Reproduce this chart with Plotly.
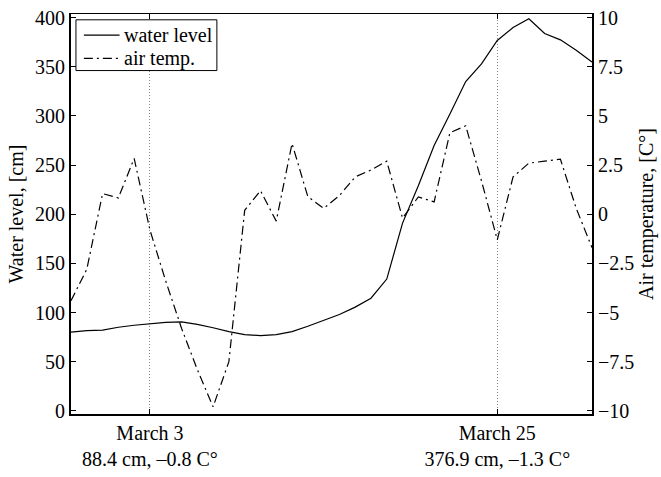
import plotly.graph_objects as go

# Day of March (Feb 26 = -2 ... March 31 = 31)
days = [-2, -1, 0, 1, 2, 3, 4, 5, 6, 7, 8, 9, 10, 11, 12, 13, 14, 15, 16,
        17, 18, 19, 20, 21, 22, 23, 24, 25, 26, 27, 28, 29, 30, 31]

water_level = [80, 81.5, 82, 85, 87, 88.4, 90, 90.5, 88, 84.5, 80.5, 77.5, 76.5,
               77.5, 80.5, 86, 92, 98, 105.5, 114.5, 134, 191, 229, 270, 302,
               335, 353, 376.9, 390, 399, 384, 377.5, 367, 355]

air_temp = [-4.4, -2.8, 1.05, 0.83, 2.84, -0.8, -3.4, -5.8, -7.9, -9.8, -7.5, 0.2,
            1.2, -0.35, 3.6, 0.9, 0.3, 0.95, 1.9, 2.25, 2.7, -0.2, 0.88, 0.63,
            4.15, 4.5, 1.7, -1.3, 1.9, 2.6, 2.7, 2.8, 0.3, -1.7]

series_names = ["water level", "air temp."]

x_tick_vals = [3, 25]
x_tick_text = ["March 3<br>88.4 cm, \u20130.8 C\u00b0",
               "March 25<br>376.9 cm, \u20131.3 C\u00b0"]

left_ticks = [0, 50, 100, 150, 200, 250, 300, 350, 400]
right_ticks = [-10, -7.5, -5, -2.5, 0, 2.5, 5, 7.5, 10]
right_text = ["\u221210", "\u22127.5", "\u22125", "\u22122.5", "0", "2.5", "5", "7.5", "10"]

FONT = "Liberation Serif, Times New Roman, serif"
DASHDOT = "9px,4px,2px,4px"
styles = [dict(color="black", width=1.2), dict(color="black", width=1.2, dash=DASHDOT)]

fig = go.Figure()
fig.add_trace(go.Scatter(x=days, y=water_level, mode="lines", name=series_names[0],
                         line=styles[0], showlegend=False))
fig.add_trace(go.Scatter(x=days, y=air_temp, mode="lines", name=series_names[1],
                         yaxis="y2", line=styles[1], showlegend=False))
# invisible trace to activate the top axis
fig.add_trace(go.Scatter(x=[days[0]], y=[water_level[0]], xaxis="x2", mode="lines",
                         showlegend=False, hoverinfo="skip", line=dict(width=0)))

# Legend box (MATLAB style) drawn in paper coordinates
shapes = [dict(type="rect", xref="paper", yref="paper", x0=0.0095, x1=0.280,
               y0=0.8586, y1=0.9855, line=dict(color="black", width=1),
               fillcolor="white", layer="above")]
annotations = []
for i, (name, st) in enumerate(zip(series_names, styles)):
    yy = 0.947 - i * 0.058
    shapes.append(dict(type="line", xref="paper", yref="paper", x0=0.0247, x1=0.0932,
                       y0=yy, y1=yy, line=st, layer="above"))
    annotations.append(dict(xref="paper", yref="paper", x=0.0985, y=yy, text=name,
                            showarrow=False, xanchor="left", yanchor="middle",
                            font=dict(family=FONT, size=20, color="black")))

fig.update_layout(
    width=661, height=477,
    margin=dict(l=71, r=64, t=7, b=55, pad=0),
    paper_bgcolor="white", plot_bgcolor="white",
    font=dict(family=FONT, size=20, color="black"),
    showlegend=False,
    shapes=shapes, annotations=annotations,
    xaxis=dict(range=[-2, 31], tickmode="array", tickvals=x_tick_vals,
               ticktext=x_tick_text, ticks="inside", ticklen=5, tickwidth=1,
               tickcolor="black", showline=True, linecolor="black", linewidth=2,
               showgrid=True, gridcolor="#888888", griddash="1px,2px", gridwidth=1,
               zeroline=False, tickfont=dict(family=FONT, size=20), ticklabeloverflow="allow"),
    xaxis2=dict(range=[-2, 31], overlaying="x", side="top", tickmode="array",
                tickvals=x_tick_vals, showticklabels=False, ticks="inside",
                ticklen=5, tickcolor="black", showline=True, linecolor="black",
                linewidth=1, showgrid=False, zeroline=False),
    yaxis=dict(range=[-3.3, 403.8], tickmode="array", tickvals=left_ticks,
               ticks="inside", ticklen=5, tickcolor="black", showline=True,
               linecolor="black", linewidth=2, showgrid=False, zeroline=False,
               title=dict(text="Water level, [cm]", font=dict(family=FONT, size=20), standoff=6),
               tickfont=dict(family=FONT, size=20), ticklabeloverflow="allow"),
    yaxis2=dict(range=[-10.165, 10.19], overlaying="y", side="right",
                tickmode="array", tickvals=right_ticks, ticktext=right_text,
                ticks="inside", ticklen=5, tickcolor="black", showline=True,
                linecolor="black", linewidth=2, showgrid=False, zeroline=False,
                title=dict(text="Air temperature, [C\u00b0]", font=dict(family=FONT, size=20), standoff=6),
                tickfont=dict(family=FONT, size=20), ticklabeloverflow="allow"),
)

fig.write_html("out.html")
